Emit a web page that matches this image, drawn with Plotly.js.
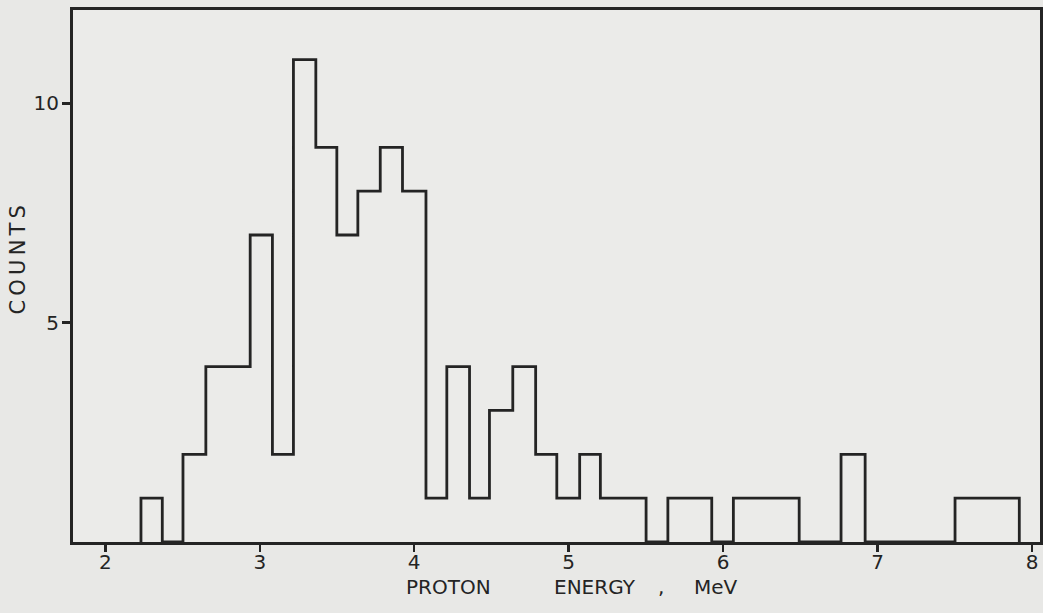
<!DOCTYPE html>
<html>
<head>
<meta charset="utf-8">
<script src="https://cdn.plot.ly/plotly-3.0.1.min.js"></script>
<style>
html,body{margin:0;padding:0;background:#e8e8e6;}
#chart{width:1043px;height:613px;}
</style>
</head>
<body>
<div id="chart"></div>
<script>
// Bin edges (MeV) where the histogram level changes
const edges = [2.231, 2.369, 2.503, 2.651, 2.938, 3.082, 3.218, 3.363, 3.499, 3.635,
               3.780, 3.924, 4.076, 4.211, 4.358, 4.487, 4.638, 4.786, 4.923, 5.071,
               5.205, 5.501, 5.642, 5.926, 6.066, 6.492, 6.763, 6.919, 7.501, 7.917];
// Counts in each interval between consecutive edges
const counts = [1, 0, 2, 4, 7, 2, 11, 9, 7, 8,
                9, 8, 1, 4, 1, 3, 4, 2, 1, 2,
                1, 0, 1, 0, 1, 0, 2, 0, 1];
const xTicks = [2, 3, 4, 5, 6, 7, 8];
const yTicks = [5, 10];
const xTitleWords = ['PROTON', 'ENERGY', ',', 'MeV'];
const yTitle = 'C\u2009O\u2009U\u2009N\u2009T\u2009S';

const xs = [edges[0]];
const ys = [0];
for (let i = 0; i < counts.length; i++) { xs.push(edges[i]); ys.push(counts[i]); }
xs.push(edges[edges.length - 1]); ys.push(0);

const ink = '#242424';
const fontFam = 'DejaVu Sans, Verdana, sans-serif';

// plot area in pixels
const L = 73, R = 3, T = 10, B = 71, W = 1043, H = 613;
const pw = W - L - R, ph = H - T - B;
const px = p => (p - L) / pw;

const trace = {
  x: xs, y: ys, type: 'scatter', mode: 'lines',
  line: {shape: 'hv', color: ink, width: 2.8},
  hoverinfo: 'skip', showlegend: false
};

const wordCenters = [448, 595, 661, 716];
const annotations = xTitleWords.map((w, i) => ({
  text: w, xref: 'paper', yref: 'paper', x: px(wordCenters[i]), y: 0,
  yshift: -45, xanchor: 'center', yanchor: 'middle', showarrow: false,
  font: {family: fontFam, size: 20, color: ink}
}));
annotations.push({
  text: yTitle, textangle: -90, xref: 'paper', yref: 'paper',
  x: 0, xshift: 17.5 - L, y: (H - B - 260) / ph,
  xanchor: 'center', yanchor: 'middle', showarrow: false,
  font: {family: fontFam, size: 21, color: ink}
});

const layout = {
  width: W, height: H,
  margin: {l: L, r: R, t: T, b: B},
  paper_bgcolor: '#e8e8e6', plot_bgcolor: '#ebebe9',
  font: {family: fontFam, color: ink, size: 20},
  xaxis: {
    range: [1.791, 8.051], tickvals: xTicks, ticktext: xTicks.map(String),
    ticks: 'outside', ticklen: 7, tickwidth: 2.5, tickcolor: ink,
    ticklabelstandoff: -7,
    showline: true, linecolor: ink, linewidth: 3, mirror: true,
    showgrid: false, zeroline: false,
    tickfont: {family: fontFam, size: 20, color: ink}
  },
  yaxis: {
    range: [0, 12.13], tickvals: yTicks, ticktext: yTicks.map(String),
    ticks: 'outside', ticklen: 8, tickwidth: 2.5, tickcolor: ink,
    ticklabelstandoff: -1,
    showline: true, linecolor: ink, linewidth: 3, mirror: true,
    showgrid: false, zeroline: false,
    tickfont: {family: fontFam, size: 20, color: ink}
  },
  annotations: annotations
};

Plotly.newPlot('chart', [trace], layout, {displayModeBar: false, staticPlot: true});
</script>
</body>
</html>
